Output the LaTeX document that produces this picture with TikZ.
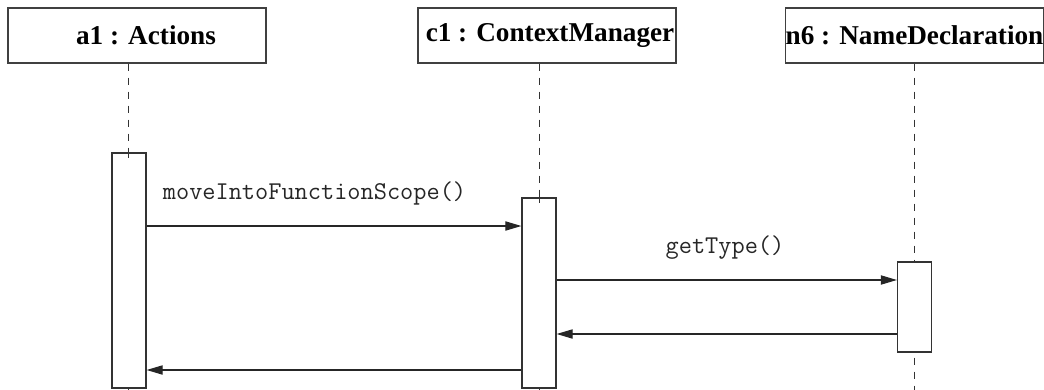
\documentclass[tikz,border=0pt]{standalone}
\usepackage{fontspec}
\setmainfont{Liberation Serif}
\usetikzlibrary{arrows.meta}
\begin{document}
\begin{tikzpicture}[x=0.5pt,y=-0.5pt,
  objbox/.style={draw=black!75,line width=0.6pt,fill=white,minimum width=129pt,minimum height=27.5pt,inner sep=0pt,font=\fontsize{13.6}{15}\selectfont\bfseries},
  actbox/.style={draw=black!80,line width=0.6pt,fill=white,minimum width=17pt,inner sep=0pt},
  lifeline/.style={draw=black!80,line width=0.5pt,dash pattern=on 3.5pt off 3.5pt},
  msg/.style={draw=black!85,line width=0.55pt,-{Triangle[length=8pt,width=4.6pt]}},
  msglabel/.style={font=\ttfamily\fontsize{12.8}{14}\selectfont,text=black!85,inner sep=0pt}]
\useasboundingbox (0,0) rectangle (1044,390);
% object boxes
\node[objbox] (a1) at (137,35.5) {\hspace*{9pt}a1 : Actions};
\node[objbox] (c1) at (547,35.5) {\hspace*{3pt}c1 : ContextManager};
\node[objbox] (n6) at (914.5,35.5) {n6 : NameDeclaration};
% lifeline coordinates
\coordinate (la) at (128,390);
\coordinate (lc) at (539,390);
\coordinate (ln) at (914,390);
\draw[lifeline] (a1.south -| la) -- (la);
\draw[lifeline] (c1.south -| lc) -- (lc);
\draw[lifeline] (n6.south -| ln) -- (ln);
% activations
\node[actbox,minimum height=117.5pt] (actA) at (129,270.5) {};
\node[actbox,minimum height=95pt] (actC) at (539,293) {};
\node[actbox,minimum height=45pt] (actN) at (914.5,307) {};
% a dash crossing activation tops
\draw[lifeline] (128,153) -- (128,158);
\draw[lifeline] (539,198) -- (539,203);
% messages
\draw[msg] (actA.east |- 0,226) -- (actC.west |- 0,226);
\node[msglabel] (m1) at (314.5,193) {moveIntoFunctionScope()};
\draw[msg] (actC.east |- 0,280) -- (actN.west |- 0,280);
\node[msglabel] (m2) at (725,248) {getType()};
\draw[msg] (actN.west |- 0,334) -- (actC.east |- 0,334);
\draw[msg] (actC.west |- 0,370) -- (actA.east |- 0,370);
\end{tikzpicture}
\end{document}
